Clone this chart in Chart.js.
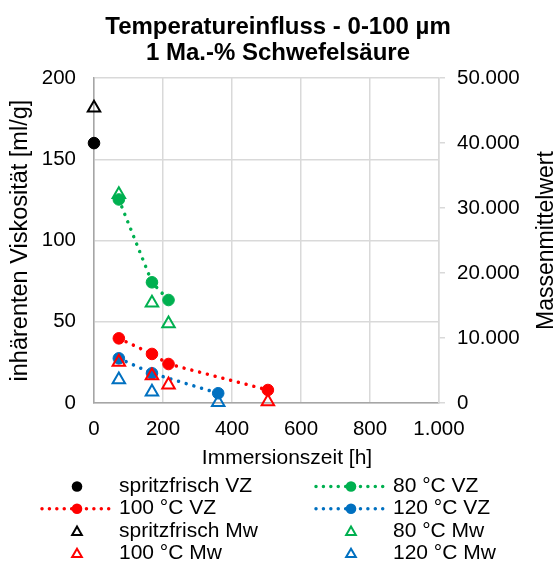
<!DOCTYPE html>
<html>
<head>
<meta charset="utf-8">
<script src="https://cdn.jsdelivr.net/npm/chart.js@4.4.1/dist/chart.umd.min.js"></script>
<style>
  html, body { margin: 0; padding: 0; background: #ffffff; }
  #c { display: block; }
</style>
</head>
<body>
<canvas id="c" width="556" height="564"></canvas>
<script>
// ---------- data ----------
const titleLines = ['Temperatureinfluss - 0-100 µm', '1 Ma.-% Schwefelsäure'];
const xTitle = 'Immersionszeit [h]';
const yTitle = 'inhärenten Viskosität [ml/g]';
const y2Title = 'Massenmittelwert';

const xTicks = [0, 200, 400, 600, 800, 1000];
const yTicks = [0, 50, 100, 150, 200];
const y2Ticks = [0, 10000, 20000, 30000, 40000, 50000];

const hoursFresh = [0];
const vzFresh = [160];
const mwFresh = [45400];

const hours80 = [72, 168, 216];
const vz80 = [125.3, 74.3, 63.4];
const mw80 = [32100, 15400, 12200];

const hours100 = [72, 168, 216, 504];
const vz100 = [39.8, 30.2, 24.0, 8.0];
const mw100 = [6300, 4200, 2800, 200];

const hours120 = [72, 168, 360];
const vz120 = [27.5, 18.3, 6.0];
const mw120 = [3600, 1700, 100];

const labels = ['spritzfrisch VZ', '80 °C VZ', '100 °C VZ', '120 °C VZ',
                'spritzfrisch Mw', '80 °C Mw', '100 °C Mw', '120 °C Mw'];

// ---------- styling ----------
const FONT = '"Liberation Sans", Arial, Helvetica, sans-serif';
const BLACK = '#000000', GREEN = '#00b050', RED = '#ff0000', BLUE = '#0070c0';
const GRID = '#d9d9d9', AXIS = '#a6a6a6';
const DOT_DASH = [0.01, 8];

function pts(xs, ys) { return xs.map((x, i) => ({ x: x, y: ys[i] })); }
function fmtDE(v) { return String(v).replace(/\B(?=(\d{3})+(?!\d))/g, '.'); }

function vzSet(label, xs, ys, color, line) {
  return {
    label: label, data: pts(xs, ys), yAxisID: 'y', order: 2,
    showLine: line, borderColor: color, backgroundColor: color,
    borderWidth: 3.5, borderDash: DOT_DASH, borderCapStyle: 'round',
    pointStyle: 'circle', pointRadius: 5.8, pointBorderWidth: 1,
    pointBackgroundColor: color, pointBorderColor: color,
    pointHoverRadius: 5.8, clip: false, tension: 0
  };
}
function mwSet(label, xs, ys, color) {
  return {
    label: label, data: pts(xs, ys), yAxisID: 'y2', order: 1,
    showLine: false, borderColor: color, backgroundColor: 'rgba(0,0,0,0)',
    pointStyle: 'triangle', pointRadius: 7.2, pointBorderWidth: 2,
    pointBackgroundColor: 'rgba(0,0,0,0)', pointBorderColor: color,
    pointHoverRadius: 7.2, clip: false
  };
}

const datasets = [
  vzSet(labels[0], hoursFresh, vzFresh, BLACK, false),
  vzSet(labels[1], hours80, vz80, GREEN, true),
  vzSet(labels[2], hours100, vz100, RED, true),
  vzSet(labels[3], hours120, vz120, BLUE, true),
  mwSet(labels[4], hoursFresh, mwFresh, BLACK),
  mwSet(labels[5], hours80, mw80, GREEN),
  mwSet(labels[6], hours100, mw100, RED),
  mwSet(labels[7], hours120, mw120, BLUE)
];

// custom legend (two columns, Excel-like), x title and right axis title placed like Excel
const excelLegend = {
  id: 'excelLegend',
  afterDraw(chart) {
    const ctx = chart.ctx;
    const colMarker = [77, 351];
    const rowY0 = 486.5, rowStep = 22.2;
    ctx.save();
    chart.data.datasets.forEach((ds, i) => {
      const col = i % 2, row = Math.floor(i / 2);
      const mx = colMarker[col], my = rowY0 + row * rowStep;
      const color = ds.pointBorderColor;
      if (ds.showLine) {
        ctx.save();
        ctx.strokeStyle = color;
        ctx.lineWidth = 3.5;
        ctx.lineCap = 'round';
        ctx.setLineDash([0.01, 7.4]);
        ctx.beginPath();
        ctx.moveTo(mx - 35, my);
        ctx.lineTo(mx + 35, my);
        ctx.stroke();
        ctx.restore();
      }
      ctx.setLineDash([]);
      if (ds.pointStyle === 'circle') {
        ctx.fillStyle = color;
        ctx.beginPath();
        ctx.arc(mx, my, 5.3, 0, Math.PI * 2);
        ctx.fill();
      } else {
        const r = 5.6;
        ctx.strokeStyle = color;
        ctx.lineWidth = 2;
        ctx.beginPath();
        const cy = my + 1.2;
        ctx.moveTo(mx, cy - r);
        ctx.lineTo(mx + 0.866 * r, cy + 0.5 * r);
        ctx.lineTo(mx - 0.866 * r, cy + 0.5 * r);
        ctx.closePath();
        ctx.stroke();
      }
      ctx.fillStyle = BLACK;
      ctx.font = '21px ' + FONT;
      ctx.textAlign = 'left';
      ctx.textBaseline = 'middle';
      ctx.fillText(ds.label, mx + 42, my);
    });
    // x axis title (Excel places it slightly right of the plot centre)
    ctx.fillStyle = BLACK;
    ctx.font = '21px ' + FONT;
    ctx.textAlign = 'center';
    ctx.textBaseline = 'middle';
    ctx.fillText(xTitle, 287, 458.6);
    // right axis title (reads bottom-to-top)
    const ca = chart.chartArea;
    ctx.translate(546.5, (ca.top + ca.bottom) / 2);
    ctx.rotate(-Math.PI / 2);
    ctx.font = '23px ' + FONT;
    ctx.fillText(y2Title, 0, 0);
    ctx.restore();
  }
};

const tickFont = { family: FONT, size: 20.5 };

new Chart(document.getElementById('c'), {
  type: 'scatter',
  data: { datasets: datasets },
  plugins: [excelLegend],
  options: {
    responsive: false,
    animation: false,
    devicePixelRatio: 1,
    layout: { padding: { left: 0, right: 0, top: 0, bottom: 91 } },
    plugins: {
      legend: { display: false },
      tooltip: { enabled: false },
      title: {
        display: true,
        text: titleLines,
        color: BLACK,
        font: { family: FONT, size: 24, weight: 'bold', lineHeight: 1.065 },
        padding: { top: 15, bottom: 12 }
      }
    },
    scales: {
      x: {
        type: 'linear', position: 'bottom', min: 0, max: 1000,
        afterBuildTicks: s => { s.ticks = xTicks.map(v => ({ value: v })); },
        afterFit: s => { s.height = 70; },
        ticks: { color: BLACK, font: tickFont, padding: 14.4, autoSkip: false, maxRotation: 0,
                 callback: v => fmtDE(v) },
        grid: { color: GRID, lineWidth: 1.5, drawTicks: false },
        border: { color: AXIS, width: 1.5 },
        title: { display: false }
      },
      y: {
        type: 'linear', position: 'left', min: 0, max: 200,
        afterBuildTicks: s => { s.ticks = yTicks.map(v => ({ value: v })); },
        afterFit: s => { s.width = 94; },
        ticks: { color: BLACK, font: tickFont, padding: 18, callback: v => fmtDE(v) },
        grid: { color: GRID, lineWidth: 1.5, drawTicks: false },
        border: { color: AXIS, width: 1.5 },
        title: { display: true, text: yTitle, color: BLACK,
                 font: { family: FONT, size: 23.5, lineHeight: 1.2 }, padding: { top: 6.4, bottom: 0 } }
      },
      y2: {
        type: 'linear', position: 'right', min: 0, max: 50000,
        afterBuildTicks: s => { s.ticks = y2Ticks.map(v => ({ value: v })); },
        afterFit: s => { s.width = 117; },
        ticks: { color: BLACK, font: tickFont, padding: 12, callback: v => fmtDE(v) },
        grid: { drawOnChartArea: false, drawTicks: true, tickLength: 6, tickColor: GRID,
                tickWidth: 1.5, color: GRID, lineWidth: 1.5 },
        border: { color: GRID, width: 1.5 }
      }
    }
  }
});
</script>
</body>
</html>
